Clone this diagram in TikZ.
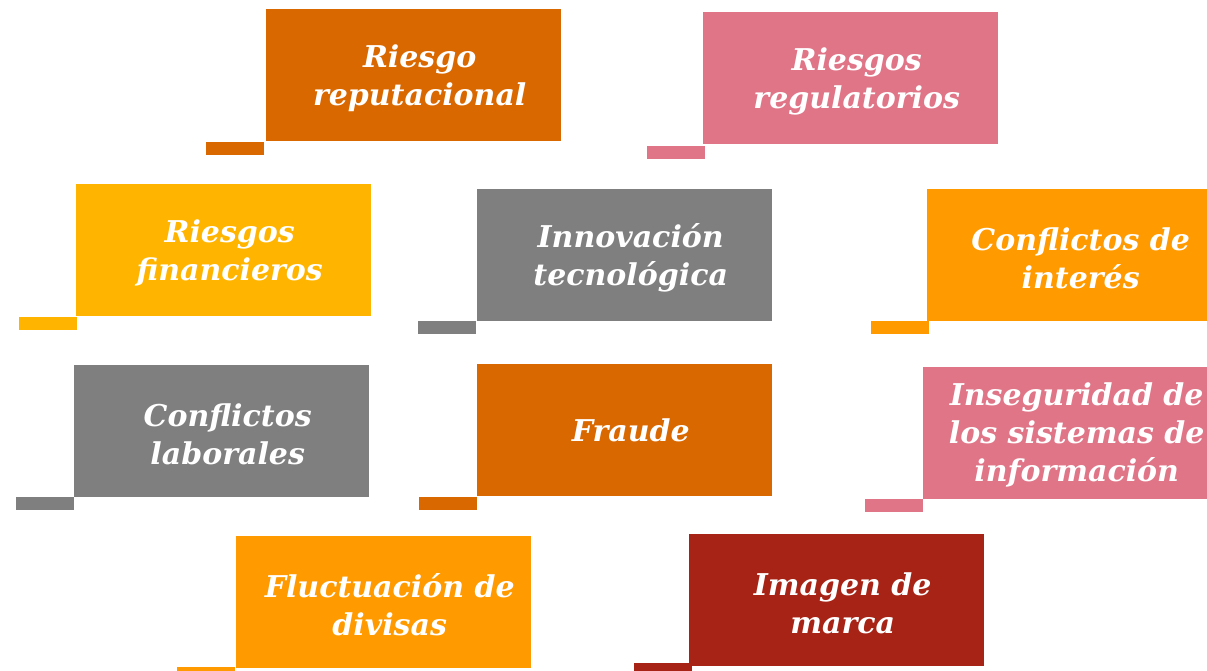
\documentclass[tikz,border=0pt]{standalone}
\usepackage{fontspec}
\setmainfont{DejaVu Serif}
\definecolor{cDark}{HTML}{DA6800}
\definecolor{cPink}{HTML}{E07588}
\definecolor{cYellow}{HTML}{FFB500}
\definecolor{cGray}{HTML}{7F7F7F}
\definecolor{cOrange}{HTML}{FF9A00}
\definecolor{cRed}{HTML}{A62316}
\tikzset{
  box/.style={rectangle, fill=#1, draw=none, anchor=north west, inner sep=0pt,
    minimum width=295pt, minimum height=132pt},
  tab/.style={rectangle, fill=#1, draw=none, anchor=north east, inner sep=0pt,
    minimum width=58pt, minimum height=13pt},
  lbl/.style={text=white, align=center, inner sep=0pt,
    font=\fontsize{30pt}{38pt}\selectfont\bfseries\itshape}
}
\begin{document}
\begin{tikzpicture}[x=1pt,y=-1pt]
\useasboundingbox (0,0) rectangle (1207,670);
\clip (0,0) rectangle (1207,670);
% boxes
\node[box=cDark]   (b1)  at (266,9)   {};
\node[box=cPink]   (b2)  at (703,12)  {};
\node[box=cYellow] (b3)  at (76,184)  {};
\node[box=cGray]   (b4)  at (477,189) {};
\node[box=cOrange] (b5)  at (927,189) {};
\node[box=cGray]   (b6)  at (74,365)  {};
\node[box=cDark]   (b7)  at (477,364) {};
\node[box=cPink]   (b8)  at (923,367) {};
\node[box=cOrange] (b9)  at (236,536) {};
\node[box=cRed]    (b10) at (689,534) {};
% tabs
\node[tab=cDark]   (s1)  at ([xshift=-2pt]b1.south west) {};
\node[tab=cPink]   (s2)  at ([xshift=2pt,yshift=-1pt]b2.south west) {};
\node[tab=cYellow] (s3)  at ([xshift=1pt]b3.south west) {};
\node[tab=cGray]   (s4)  at ([xshift=-1pt,yshift=1pt]b4.south west) {};
\node[tab=cOrange] (s5)  at ([xshift=2pt,yshift=1pt]b5.south west) {};
\node[tab=cGray]   (s6)  at ([yshift=1pt]b6.south west) {};
\node[tab=cDark]   (s7)  at ([yshift=0pt]b7.south west) {};
\node[tab=cPink]   (s8)  at ([yshift=1pt]b8.south west) {};
\node[tab=cOrange] (s9)  at ([xshift=-1pt,yshift=2pt]b9.south west) {};
\node[tab=cRed]    (s10) at ([xshift=3pt,yshift=4pt]b10.south west) {};
% labels
\node[lbl] (t1)  at ([xshift=6pt,yshift=-3pt]b1.center)  {Riesgo\\reputacional};
\node[lbl] (t2)  at ([xshift=6pt,yshift=-3pt]b2.center)  {Riesgos\\regulatorios};
\node[lbl] (t3)  at ([xshift=6pt,yshift=-3pt]b3.center)  {Riesgos\\financieros};
\node[lbl] (t4)  at ([xshift=6pt,yshift=-3pt]b4.center)  {Innovación\\tecnológica};
\node[lbl] (t5)  at ([xshift=6pt,yshift=-3pt]b5.center)  {Conflictos de\\interés};
\node[lbl] (t6)  at ([xshift=6pt,yshift=-3pt]b6.center)  {Conflictos\\laborales};
\node[lbl] (t7)  at ([xshift=6pt]b7.center)  {Fraude};
\node[lbl] (t8)  at ([xshift=6pt,yshift=-2pt]b8.center)  {Inseguridad de\\los sistemas de\\información};
\node[lbl] (t9)  at ([xshift=6pt,yshift=-3pt]b9.center)  {Fluctuación de\\divisas};
\node[lbl] (t10) at ([xshift=6pt,yshift=-3pt]b10.center) {Imagen de\\marca};
\end{tikzpicture}
\end{document}
